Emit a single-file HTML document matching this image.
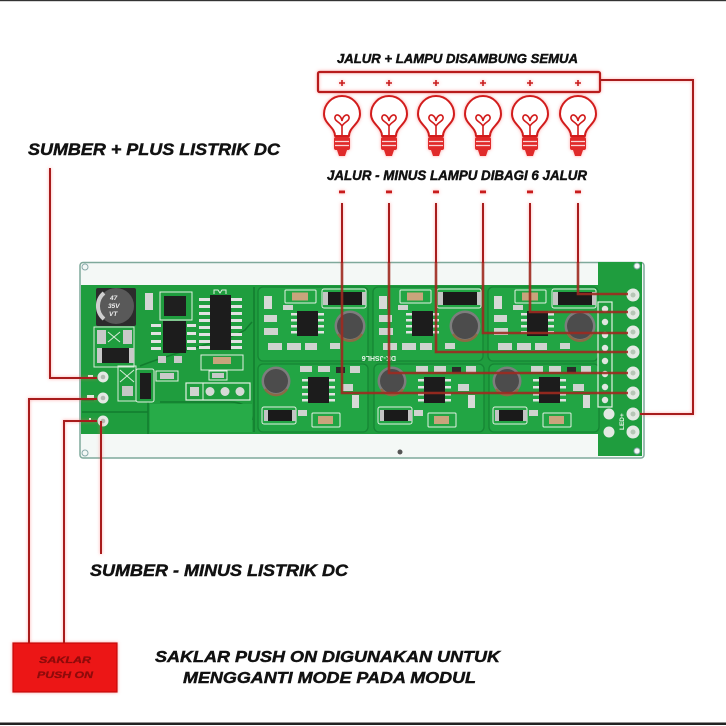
<!DOCTYPE html>
<html><head><meta charset="utf-8"><style>
html,body{margin:0;padding:0;background:#fff;}
svg{display:block;}
text{font-family:"Liberation Sans",sans-serif;}
</style></head><body>
<svg width="726" height="726" viewBox="0 0 726 726" xmlns="http://www.w3.org/2000/svg">
<defs>
<filter id="glow" filterUnits="userSpaceOnUse" x="0" y="0" width="726" height="726">
  <feGaussianBlur in="SourceAlpha" stdDeviation="1.7" result="b"/>
  <feFlood flood-color="#ff5a5a" flood-opacity="0.55"/>
  <feComposite in2="b" operator="in" result="g"/>
  <feMerge><feMergeNode in="g"/><feMergeNode in="SourceGraphic"/></feMerge>
</filter>
<filter id="blur" filterUnits="userSpaceOnUse" x="0" y="0" width="726" height="726">
  <feGaussianBlur stdDeviation="3"/>
</filter>
<g id="bulb">
  <path d="M-7,136 C-7,127 -18,124 -18,114 A18,18 0 0 1 18,114 C18,124 7,127 7,136 Z" fill="#fff" stroke="#d21f1f" stroke-width="2" stroke-linejoin="round"/>
  <path d="M0,136 L0,126 C-2,122 -8,121 -7,117 C-6,113 -1,115 0,121 C1,115 6,113 7,117 C8,121 2,122 0,126" fill="none" stroke="#d21f1f" stroke-width="1.6"/>
  <rect x="-8" y="137" width="16" height="13" rx="2" fill="#e02a2a"/>
  <path d="M-5,150 L5,150 L3,156 L-3,156 Z" fill="#e02a2a"/>
  <path d="M-7,141.5 H7 M-7,145.5 H7" stroke="#f9d4d4" stroke-width="1.2"/>
</g>
<g id="mt">
  <rect x="258" y="287" width="110" height="74" rx="5" fill="#22a544" stroke="#168534" stroke-width="1.3"/>
  <rect x="285" y="290" width="31" height="13" rx="1" fill="none" stroke="#e3f1e3" stroke-width="1"/>
  <rect x="292" y="292.5" width="16" height="8" fill="#c9a47c"/>
  <rect x="264" y="296" width="8" height="13" fill="#d7dad7"/>
  <rect x="264" y="315" width="13" height="7" fill="#d2d6d2"/>
  <rect x="264" y="328" width="14" height="7" fill="#cfd3cf"/>
  <rect x="268" y="343" width="14" height="7" fill="#cfd3cf"/>
  <rect x="287" y="343" width="14" height="7" fill="#cfd3cf"/>
  <rect x="305" y="343" width="12" height="7" fill="#cfd3cf"/>
  <rect x="283" y="305" width="10" height="5" fill="#cfd3cf"/>
  <rect x="297" y="311" width="21" height="25" fill="#1c1c1c"/>
  <g fill="#e2e2e2">
    <rect x="291" y="313" width="6" height="2.5"/><rect x="291" y="319" width="6" height="2.5"/><rect x="291" y="325" width="6" height="2.5"/><rect x="291" y="331" width="6" height="2.5"/>
    <rect x="318" y="313" width="6" height="2.5"/><rect x="318" y="319" width="6" height="2.5"/><rect x="318" y="325" width="6" height="2.5"/><rect x="318" y="331" width="6" height="2.5"/>
  </g>
  <rect x="322" y="289" width="44" height="19" rx="2" fill="none" stroke="#e3f1e3" stroke-width="1"/>
  <rect x="323" y="292" width="5" height="13" fill="#c4c4c4"/>
  <rect x="328" y="292" width="34" height="13" fill="#1a1a1a"/>
  <rect x="362" y="292" width="4" height="13" fill="#c4c4c4"/>
  <circle cx="350" cy="326" r="15.5" fill="#7d7d7d"/>
  <circle cx="350" cy="326" r="13" fill="#4c4c4c"/>
  <path d="M338,334 A14,14 0 0 0 362,334" stroke="#8a6a45" stroke-width="2.5" fill="none"/>
  <rect x="330" y="343" width="10" height="6" fill="#cfd3cf"/>
</g>
<g id="mb">
  <rect x="258" y="364" width="110" height="68" rx="5" fill="#22a544" stroke="#168534" stroke-width="1.3"/>
  <circle cx="276" cy="381" r="14.5" fill="#7d7d7d"/>
  <circle cx="276" cy="381" r="12" fill="#4c4c4c"/>
  <path d="M265,389 A13,13 0 0 0 287,389" stroke="#8a6a45" stroke-width="2.5" fill="none"/>
  <rect x="262" y="407" width="34" height="17" rx="2" fill="none" stroke="#e3f1e3" stroke-width="1"/>
  <rect x="264" y="410" width="4" height="11" fill="#c4c4c4"/>
  <rect x="268" y="410" width="24" height="11" fill="#1a1a1a"/>
  <rect x="292" y="410" width="4" height="11" fill="#c4c4c4"/>
  <rect x="300" y="366" width="12" height="6" fill="#cfd3cf"/>
  <rect x="318" y="366" width="12" height="6" fill="#cfd3cf"/>
  <rect x="336" y="367" width="9" height="6" fill="#2a2a2a"/>
  <rect x="350" y="366" width="10" height="7" fill="#cfd3cf"/>
  <rect x="308" y="377" width="21" height="26" fill="#1c1c1c"/>
  <g fill="#e2e2e2">
    <rect x="302" y="379" width="6" height="2.5"/><rect x="302" y="386" width="6" height="2.5"/><rect x="302" y="393" width="6" height="2.5"/><rect x="302" y="399" width="6" height="2.5"/>
    <rect x="329" y="379" width="6" height="2.5"/><rect x="329" y="386" width="6" height="2.5"/><rect x="329" y="393" width="6" height="2.5"/><rect x="329" y="399" width="6" height="2.5"/>
  </g>
  <rect x="342" y="384" width="11" height="7" fill="#cfd3cf"/>
  <rect x="352" y="395" width="7" height="13" fill="#d7dad7"/>
  <rect x="312" y="413" width="28" height="14" rx="1" fill="none" stroke="#e3f1e3" stroke-width="1"/>
  <rect x="318" y="416" width="15" height="8" fill="#c9a47c"/>
  <rect x="298" y="410" width="9" height="6" fill="#cfd3cf"/>
</g>
</defs>

<rect x="0" y="0" width="726" height="726" fill="#fff"/>
<rect x="0" y="0" width="726" height="1.2" fill="#333"/>
<rect x="0" y="722.5" width="726" height="2.5" fill="#222"/>

<!-- Texts -->
<g font-weight="bold" font-style="italic" fill="#111" stroke="#111" stroke-width="0.45">
  <text x="337" y="63" font-size="13" textLength="241" lengthAdjust="spacingAndGlyphs">JALUR + LAMPU DISAMBUNG SEMUA</text>
  <text x="327" y="180" font-size="13.5" textLength="260" lengthAdjust="spacingAndGlyphs">JALUR - MINUS LAMPU DIBAGI 6 JALUR</text>
  <text x="28" y="155" font-size="17" textLength="252" lengthAdjust="spacingAndGlyphs">SUMBER + PLUS LISTRIK DC</text>
  <text x="90" y="576" font-size="17" textLength="258" lengthAdjust="spacingAndGlyphs">SUMBER - MINUS LISTRIK DC</text>
  <text x="155" y="662" font-size="16" textLength="345" lengthAdjust="spacingAndGlyphs">SAKLAR PUSH ON DIGUNAKAN UNTUK</text>
  <text x="183" y="683" font-size="16" textLength="293" lengthAdjust="spacingAndGlyphs">MENGGANTI MODE PADA MODUL</text>
</g>

<!-- Shadows under board -->
<g fill="#9aa29e" opacity="0.55" filter="url(#blur)">
  <rect x="262" y="436" width="32" height="10" rx="4"/>
  <rect x="378" y="436" width="32" height="10" rx="4"/>
  <rect x="494" y="436" width="32" height="10" rx="4"/>
</g>

<!-- Board -->
<rect x="80" y="262.5" width="564" height="195.5" rx="3" fill="#f4f8f6" stroke="#7fa99b" stroke-width="1.5"/>
<rect x="81" y="285" width="524" height="149" fill="#1f9d3e"/>
<rect x="598" y="262" width="44" height="194" fill="#1f9d3e"/>
<circle cx="85" cy="267" r="3" fill="none" stroke="#8aa" stroke-width="1"/>
<circle cx="85" cy="453" r="3" fill="none" stroke="#8aa" stroke-width="1"/>
<circle cx="637" cy="451" r="3" fill="#f4f8f6" stroke="#8aa" stroke-width="1"/>
<circle cx="637" cy="266" r="3" fill="#f4f8f6" stroke="#8aa" stroke-width="1"/>
<circle cx="400" cy="452" r="2.5" fill="#555"/>

<!-- left section pour lines -->
<g stroke="#127c2e" stroke-width="1.5" fill="none">
  <path d="M148,402 V434"/>
  <path d="M82,400 H94 M82,412 H148"/>
  <path d="M254,287 V432"/>
  <path d="M140,366 C180,350 230,340 245,330 L252,322"/>
  <path d="M160,402 H230 Q250,402 252,420"/>
</g>
<rect x="150" y="404" width="102" height="28" fill="#27ab48"/>

<!-- electrolytic cap -->
<rect x="96" y="288" width="40" height="38" rx="2" fill="#2c2c2c"/>
<circle cx="116" cy="306" r="18" fill="#595959"/>
<path d="M104,293 A17,17 0 0 0 104,319" stroke="#cfcfcf" stroke-width="4" fill="none"/>
<g font-size="6.5" fill="#eee" font-style="italic" font-weight="bold">
  <text x="110" y="300">47</text>
  <text x="108" y="308">35V</text>
  <text x="109" y="316">VT</text>
</g>
<!-- below cap -->
<rect x="94" y="327" width="40" height="40" fill="none" stroke="#d9ecd9" stroke-width="1"/>
<rect x="97" y="330" width="9" height="14" fill="#c9c9c9"/>
<rect x="123" y="330" width="9" height="14" fill="#c9c9c9"/>
<path d="M108,332 L120,342 M120,332 L108,342" stroke="#d9ecd9" stroke-width="1"/>
<rect x="102" y="348" width="27" height="15" fill="#1e1e1e"/>
<rect x="97" y="348" width="5" height="15" fill="#c9c9c9"/>
<rect x="129" y="348" width="5" height="15" fill="#c9c9c9"/>
<rect x="145" y="293" width="8" height="17" fill="#d4d6d4"/>
<!-- transistor area -->
<rect x="118" y="366" width="18" height="35" fill="none" stroke="#d9ecd9" stroke-width="1"/>
<path d="M120,370 L134,382 M134,370 L120,382" stroke="#d9ecd9" stroke-width="1"/>
<rect x="122" y="386" width="11" height="10" fill="#c4c8c4"/>
<rect x="136" y="369" width="18" height="33" rx="2" fill="none" stroke="#e3f1e3" stroke-width="1"/>
<rect x="140" y="373" width="11" height="26" fill="#1c1c1c"/>
<rect x="156" y="371" width="22" height="10" fill="none" stroke="#e3f1e3" stroke-width="1"/>
<rect x="160" y="373" width="14" height="6" fill="#c9c9c9"/>
<!-- IC1 -->
<rect x="160" y="292" width="32" height="28" fill="none" stroke="#e3f1e3" stroke-width="1"/>
<rect x="164" y="296" width="22" height="20" fill="#1f1f1f"/>
<rect x="163" y="321" width="23" height="32" fill="#1c1c1c"/>
<g fill="#e2e2e2">
  <rect x="151" y="324" width="10" height="3"/><rect x="151" y="332" width="10" height="3"/><rect x="151" y="340" width="10" height="3"/><rect x="151" y="347" width="10" height="3"/>
  <rect x="187" y="324" width="9" height="3"/><rect x="187" y="332" width="9" height="3"/><rect x="187" y="340" width="9" height="3"/><rect x="187" y="347" width="9" height="3"/>
</g>
<rect x="158" y="356" width="8" height="7" fill="#c9c9c9"/>
<rect x="174" y="356" width="8" height="7" fill="#c9c9c9"/>
<!-- IC2 -->
<path d="M214,294 L214,290 L218,290 L220,293 L222,290 L226,290 L226,294" fill="none" stroke="#e3f1e3" stroke-width="1"/>
<rect x="210" y="295" width="21" height="55" fill="#1c1c1c"/>
<g fill="#e2e2e2">
  <rect x="199" y="298" width="11" height="3"/><rect x="199" y="305" width="11" height="3"/><rect x="199" y="312" width="11" height="3"/><rect x="199" y="319" width="11" height="3"/>
  <rect x="199" y="326" width="11" height="3"/><rect x="199" y="333" width="11" height="3"/><rect x="199" y="340" width="11" height="3"/><rect x="199" y="346" width="11" height="3"/>
  <rect x="231" y="298" width="11" height="3"/><rect x="231" y="305" width="11" height="3"/><rect x="231" y="312" width="11" height="3"/><rect x="231" y="319" width="11" height="3"/>
  <rect x="231" y="326" width="11" height="3"/><rect x="231" y="333" width="11" height="3"/><rect x="231" y="340" width="11" height="3"/><rect x="231" y="346" width="11" height="3"/>
</g>
<rect x="201" y="355" width="42" height="15" fill="none" stroke="#e3f1e3" stroke-width="1"/>
<rect x="213" y="357" width="18" height="7" fill="#c9a47c"/>
<rect x="209" y="371" width="18" height="9" fill="none" stroke="#e3f1e3" stroke-width="1"/>
<rect x="212" y="373" width="12" height="5" fill="#c9c9c9"/>
<!-- 4 pin header -->
<rect x="186" y="383" width="64" height="17" fill="none" stroke="#e3f1e3" stroke-width="1.2"/>
<path d="M203,383 V400" stroke="#e3f1e3" stroke-width="1"/>
<rect x="190" y="387" width="9" height="9" fill="#cfd3cf"/>
<circle cx="210" cy="391.5" r="4.5" fill="#d6dad6"/>
<circle cx="225" cy="391.5" r="4.5" fill="#d6dad6"/>
<circle cx="240" cy="391.5" r="4.5" fill="#d6dad6"/>
<!-- left pads -->
<g>
  <circle cx="103" cy="377" r="5.5" fill="#e4e8e4"/><circle cx="103" cy="377" r="2.3" fill="#b0bab0"/>
  <circle cx="103" cy="398" r="5.5" fill="#e4e8e4"/><circle cx="103" cy="398" r="2.3" fill="#b0bab0"/>
  <circle cx="103" cy="421" r="5.5" fill="#e4e8e4"/><circle cx="103" cy="421" r="2.3" fill="#b0bab0"/>
</g>
<g fill="#e3f1e3"><rect x="88" y="375" width="5" height="3"/><rect x="87" y="395" width="7" height="4"/><rect x="89" y="418" width="2" height="4"/></g>

<!-- modules -->
<use href="#mt"/>
<use href="#mt" x="115"/>
<use href="#mt" x="230"/>
<use href="#mb"/>
<use href="#mb" x="116"/>
<use href="#mb" x="231"/>
<text x="0" y="0" font-size="7" fill="#e8f4e8" font-weight="bold" transform="translate(396,356) rotate(180)">DK-JSHL6</text>

<!-- right connector column -->
<rect x="598" y="302" width="14" height="105" fill="#1f9d3e" stroke="#e3f1e3" stroke-width="1.2"/>
<g fill="#e0e6e0">
  <circle cx="605" cy="309" r="3.2"/><circle cx="605" cy="322" r="3.2"/><circle cx="605" cy="335" r="3.2"/><circle cx="605" cy="348" r="3.2"/>
  <circle cx="605" cy="361" r="3.2"/><circle cx="605" cy="374" r="3.2"/><circle cx="605" cy="387" r="3.2"/><circle cx="605" cy="400" r="3.2"/>
</g>
<g fill="#e3e9e3">
  <circle cx="633" cy="295" r="6.5"/><circle cx="633" cy="313" r="6.5"/><circle cx="633" cy="332" r="6.5"/><circle cx="633" cy="352" r="6.5"/>
  <circle cx="633" cy="373" r="6.5"/><circle cx="633" cy="393" r="6.5"/><circle cx="633" cy="414" r="6.5"/><circle cx="633" cy="432" r="6.5"/>
  <circle cx="609" cy="414" r="5.5"/><circle cx="609" cy="432" r="5.5"/>
</g>
<g fill="#b6c6b6">
  <circle cx="633" cy="295" r="2.5"/><circle cx="633" cy="313" r="2.5"/><circle cx="633" cy="332" r="2.5"/><circle cx="633" cy="352" r="2.5"/>
  <circle cx="633" cy="373" r="2.5"/><circle cx="633" cy="393" r="2.5"/><circle cx="633" cy="414" r="2.5"/><circle cx="633" cy="432" r="2.5"/>
</g>
<text x="0" y="0" font-size="6.5" fill="#e8f4e8" font-weight="bold" transform="translate(624,430) rotate(-90)">LED+</text>

<!-- on-board wires -->
<g stroke="#9e2a20" stroke-width="2.6" fill="none" opacity="0.9">
  <polyline points="578,262 578,294 628,294"/>
  <polyline points="530,262 530,312 628,312"/>
  <polyline points="483,262 483,333 628,333"/>
  <polyline points="436,262 436,352 628,352"/>
  <polyline points="389,262 389,373 628,373"/>
  <polyline points="342,262 342,393 628,393"/>
</g>

<!-- lamp bar, bulbs, off-board wires -->
<g filter="url(#glow)">
  <rect x="318" y="72" width="282" height="20" rx="1.5" fill="none" stroke="#b81d1d" stroke-width="2.2"/>
  <g stroke="#c81f1f" stroke-width="1.6">
    <path d="M339,83 H345 M342,80 V86"/>
    <path d="M386,83 H392 M389,80 V86"/>
    <path d="M433,83 H439 M436,80 V86"/>
    <path d="M480,83 H486 M483,80 V86"/>
    <path d="M527,83 H533 M530,80 V86"/>
    <path d="M575,83 H581 M578,80 V86"/>
  </g>
  <use href="#bulb" x="342"/>
  <use href="#bulb" x="389"/>
  <use href="#bulb" x="436"/>
  <use href="#bulb" x="483"/>
  <use href="#bulb" x="530"/>
  <use href="#bulb" x="578"/>
  <g fill="#c81f1f">
    <rect x="339" y="190.5" width="6" height="2.8"/>
    <rect x="386" y="190.5" width="6" height="2.8"/>
    <rect x="433" y="190.5" width="6" height="2.8"/>
    <rect x="480" y="190.5" width="6" height="2.8"/>
    <rect x="527" y="190.5" width="6" height="2.8"/>
    <rect x="575" y="190.5" width="6" height="2.8"/>
  </g>
  <g stroke="#a81b1b" stroke-width="2" fill="none">
    <path d="M342,203 V263 M389,203 V263 M436,203 V263 M483,203 V263 M530,203 V263 M578,203 V263"/>
    <polyline points="600,80 693,80 693,414 640,414"/>
    <polyline points="50,168 50,378 97,378"/>
    <polyline points="97,399 29,399 29,643"/>
    <polyline points="97,421 64,421 64,643"/>
    <polyline points="101,421 101,554"/>
  </g>
  <rect x="13" y="643" width="104" height="49" fill="#ec1212" stroke="#c40d0d" stroke-width="1.2"/>
</g>
<g font-weight="bold" font-style="italic" fill="#8e0b0b" stroke="#8e0b0b" stroke-width="0.3">
  <text x="65" y="663" font-size="9" text-anchor="middle" textLength="52" lengthAdjust="spacingAndGlyphs">SAKLAR</text>
  <text x="65" y="678" font-size="9" text-anchor="middle" textLength="56" lengthAdjust="spacingAndGlyphs">PUSH ON</text>
</g>
</svg>
</body></html>
